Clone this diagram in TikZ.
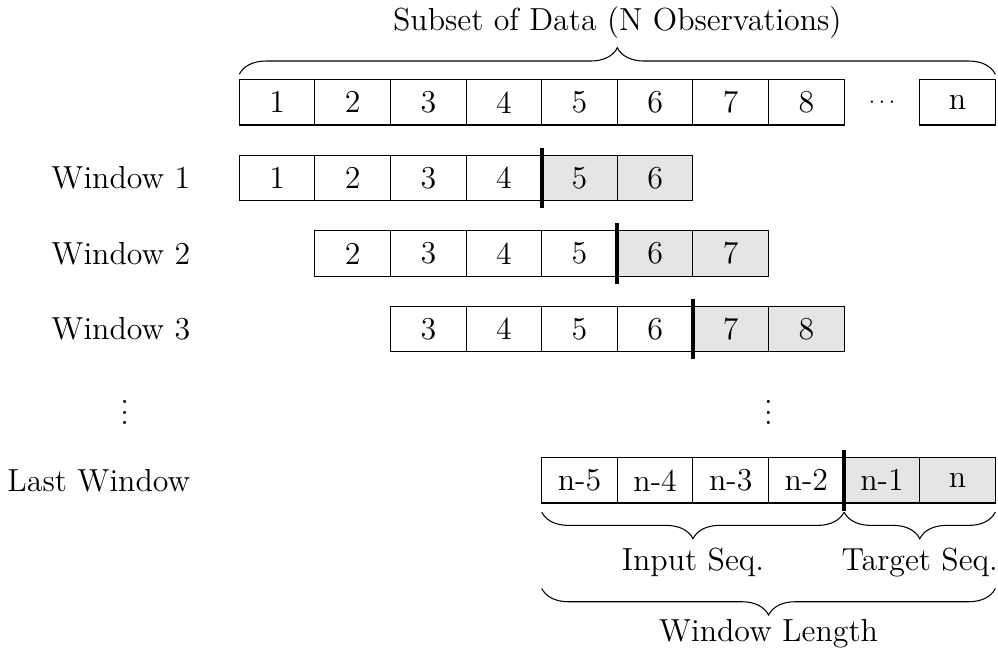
\documentclass[tikz,border=0pt]{standalone}
\usepackage{tikz}
\usetikzlibrary{decorations.pathreplacing, calc}

\begin{document}
\begin{tikzpicture}[font=\large,
    cell/.style={draw, minimum width=1cm, minimum height=0.6cm, inner sep=0pt, outer sep=0pt},
    target/.style={cell, fill=gray!20},
    splitline/.style={ultra thick},
    seqbrace/.style={decorate, decoration={brace, amplitude=10pt, raise=#1}}]

    % Canvas
    \useasboundingbox (0,0) rectangle (13.2,-8.638);

    % Full data row
    \foreach \i in {1,...,8}
        \node[cell] (top\i) at ({2.665+\i}, -1.353) {\i};
    \node (topdots) at (11.665, -1.353) {\footnotesize$\cdots$};
    \node[cell] (topn) at (12.665, -1.353) {n};

    \draw[seqbrace=2pt] (top1.north west) -- (topn.north east);
    \node[above] (subset) at ($(top1.north west)!0.5!(topn.north east)+(0,12pt)$) {Subset of Data (N Observations)};

    % Windows 1 to 3
    \foreach \w in {1,2,3} {
        \node[anchor=east] (lab\w) at (2.64, {-1.353-\w}) {Window \w};
        \foreach \j in {0,...,3} {
            \pgfmathtruncatemacro{\v}{\w+\j}
            \node[cell] (w\w-\j) at ({2.665+\w+\j}, {-1.353-\w}) {\v};
        }
        \foreach \j in {4,5} {
            \pgfmathtruncatemacro{\v}{\w+\j}
            \node[target] (w\w-\j) at ({2.665+\w+\j}, {-1.353-\w}) {\v};
        }
        \draw[splitline] ([yshift=1mm]w\w-3.north east) -- ([yshift=-1mm]w\w-3.south east);
    }

    % Dots
    \node (ldots) at (1.65, -5.353) {$\vdots$};
    \node (rdots) at (10.165, -5.353) {$\vdots$};

    % Last window
    \node[anchor=east] (lablast) at (2.64, -6.353) {Last Window};
    \foreach \j/\t in {0/n-5, 1/n-4, 2/n-3, 3/n-2}
        \node[cell] (last\j) at ({7.665+\j}, -6.353) {\t};
    \node[target] (last4) at (11.665, -6.353) {n-1};
    \node[target] (last5) at (12.665, -6.353) {n};
    \draw[splitline] ([yshift=1mm]last3.north east) -- ([yshift=-1mm]last3.south east);

    % Input / target braces
    \draw[seqbrace=0.12cm] (last3.south east) -- (last0.south west);
    \draw[seqbrace=0.12cm] (last5.south east) -- (last4.south west);
    \node[below] (inputlab) at ($(last0.south west)!0.5!(last3.south east)+(0,-0.12cm-10pt)$) {Input Seq.};
    \node[below] (targetlab) at ($(last4.south west)!0.5!(last5.south east)+(0,-0.12cm-10pt)$) {Target Seq.};

    % Window length brace
    \draw[seqbrace=1.13cm] (last5.south east) -- (last0.south west);
    \node[below] (lengthlab) at ($(last0.south west)!0.5!(last5.south east)+(0,-1.13cm-8pt)$) {Window Length};

\end{tikzpicture}
\end{document}
